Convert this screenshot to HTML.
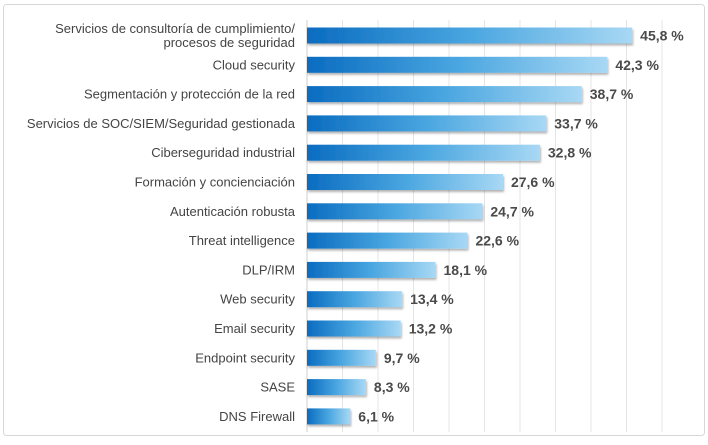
<!DOCTYPE html>
<html><head><meta charset="utf-8"><style>
body{margin:0;width:708px;height:440px;background:#fff;font-family:"Liberation Sans",sans-serif;overflow:hidden}
</style></head><body>
<svg id="c" width="708" height="440">
<defs>
<linearGradient id="g" x1="0" x2="1" y1="0" y2="0"><stop offset="0" stop-color="#0a6cc0"/><stop offset="0.5" stop-color="#4aa6e0"/><stop offset="1" stop-color="#a8d8f4"/></linearGradient>
<filter id="sh" x="-5%" y="-20%" width="110%" height="160%"><feDropShadow dx="1" dy="2" stdDeviation="1" flood-color="#000" flood-opacity="0.3"/></filter>
</defs>
<rect x="3.5" y="4.5" width="701" height="431" rx="3" fill="#fff" stroke="#d8d8d8"/>
</svg>
<script>
const categories=["Servicios de consultoría de cumplimiento/|procesos de seguridad","Cloud security","Segmentación y protección de la red","Servicios de SOC/SIEM/Seguridad gestionada","Ciberseguridad industrial","Formación y concienciación","Autenticación robusta","Threat intelligence","DLP/IRM","Web security","Email security","Endpoint security","SASE","DNS Firewall"];
const values=[45.8,42.3,38.7,33.7,32.8,27.6,24.7,22.6,18.1,13.4,13.2,9.7,8.3,6.1];
const labels=["45,8 %","42,3 %","38,7 %","33,7 %","32,8 %","27,6 %","24,7 %","22,6 %","18,1 %","13,4 %","13,2 %","9,7 %","8,3 %","6,1 %"];
const gridTicks=[0,5,10,15,20,25,30,35,40,45,50];
const svg=document.getElementById('c');const NS="http://www.w3.org/2000/svg";
const x=v=>307+v*7.1;
const y=i=>35.5+i*29.3;
function mk(t,a){const e=document.createElementNS(NS,t);for(const k in a)e.setAttribute(k,a[k]);svg.appendChild(e);return e;}
gridTicks.forEach(t=>{
const l=mk('line',{x1:x(t),x2:x(t),y1:20,y2:432,stroke:t===0?'#cfcfcf':'#e4e4e4','stroke-width':1});


});
categories.forEach((c,i)=>{
const cy=y(i);
const r=mk('rect',{x:x(0),y:cy-8,width:x(values[i])-x(0),height:16,fill:'url(#g)',filter:'url(#sh)'});


const parts=c.split('|');
const t=mk('text',{x:295,y:cy+4.5-(parts.length-1)*7,'text-anchor':'end','font-size':'13',fill:'#444'});


parts.forEach((p,j)=>{const s=document.createElementNS(NS,'tspan');s.setAttribute('x',295);s.setAttribute('dy',j?14:0);s.textContent=p;t.appendChild(s);});
const v=mk('text',{x:x(values[i])+8,y:cy+5,'font-size':'14','font-weight':'bold',fill:'#4a4a4a'});


v.textContent=labels[i];
});
</script>
</body></html>
